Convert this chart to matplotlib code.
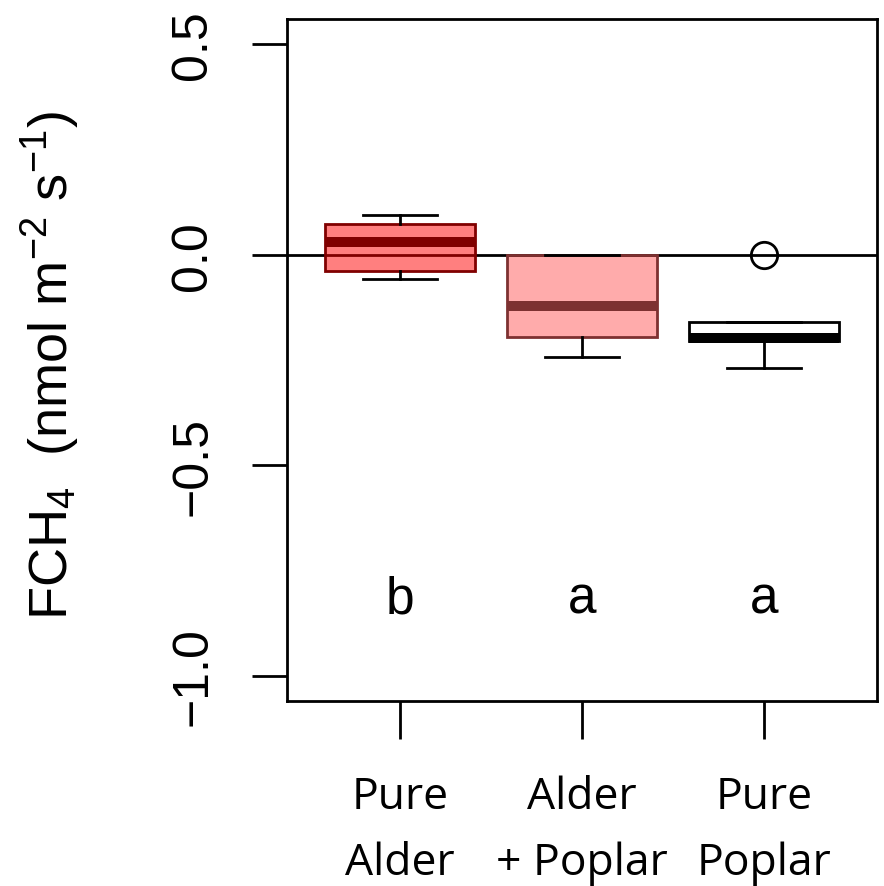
import matplotlib
matplotlib.use('Agg')
import matplotlib.pyplot as plt

plt.rcParams['font.family'] = 'Liberation Sans'
plt.rcParams['mathtext.fontset'] = 'custom'
plt.rcParams['mathtext.rm'] = 'Liberation Sans'
plt.rcParams['mathtext.it'] = 'Liberation Sans:italic'

# Methanfluss je Bestandstyp (Kennwerte der Boxplots)
groups = ['Pure\nAlder', 'Alder\n+ Poplar', 'Pure\nPoplar']
whislo = [-0.057, -0.244, -0.269]
q1 = [-0.039, -0.195, -0.205]
med = [0.031, -0.122, -0.197]
q3 = [0.074, 0.0, -0.160]
whishi = [0.094, 0.0, -0.160]
fliers = [[], [], [0.0]]
letters = ['b', 'a', 'a']
letter_y = -0.85

face = [(1, 0, 0, 0.5), (1, 0, 0, 0.33), 'white']
edge = ['#800000', '#7d3131', 'black']

stats = []
for i in range(len(groups)):
    stats.append(dict(whislo=whislo[i], q1=q1[i], med=med[i], q3=q3[i],
                      whishi=whishi[i], fliers=fliers[i]))

fig = plt.figure(figsize=(8.84, 8.87), dpi=100)
ax = fig.add_axes([287/884, (887-702)/887, 590/884, 682/887])

ax.axhline(0, color='black', lw=2, zorder=1)

pos = [1, 2, 3]
bp = ax.bxp(stats, positions=pos, widths=0.82, patch_artist=True,
            capwidths=0.41, manage_ticks=False, zorder=2,
            whiskerprops=dict(color='black', lw=2),
            capprops=dict(color='black', lw=2),
            medianprops=dict(lw=7.2, solid_capstyle='butt'),
            flierprops=dict(marker='o', markersize=19, markerfacecolor='none',
                            markeredgecolor='black', markeredgewidth=2))
for i, box in enumerate(bp['boxes']):
    box.set_facecolor(face[i])
    box.set_edgecolor(edge[i])
    box.set_linewidth(2)
    bp['medians'][i].set_color(edge[i])

for i, l in enumerate(letters):
    ax.text(pos[i], letter_y, l, ha='center', va='baseline', fontsize=37)

ax.set_xlim(0.38, 3.62)
ax.set_ylim(-1.06, 0.56)
ax.set_yticks([-1.0, -0.5, 0.0, 0.5])
ax.set_yticklabels(['\u22121.0', '\u22120.5', '0.0', '0.5'], rotation=90, va='center')
ax.set_xticks(pos)
ax.set_xticklabels(groups, fontfamily='Open Sans', fontsize=32, linespacing=1.65)

for s in ax.spines.values():
    s.set_linewidth(2)
ax.tick_params(axis='y', length=25, width=2, labelsize=36, pad=26)
ax.tick_params(axis='x', length=27, width=2, pad=26)

fig.text(50/884, 1 - 366/887, r'FCH$_4$  (nmol m$^{-2}$ s$^{-1}$)',
         rotation=90, ha='center', va='center', fontsize=39)

fig.savefig('out.png', dpi=100)
